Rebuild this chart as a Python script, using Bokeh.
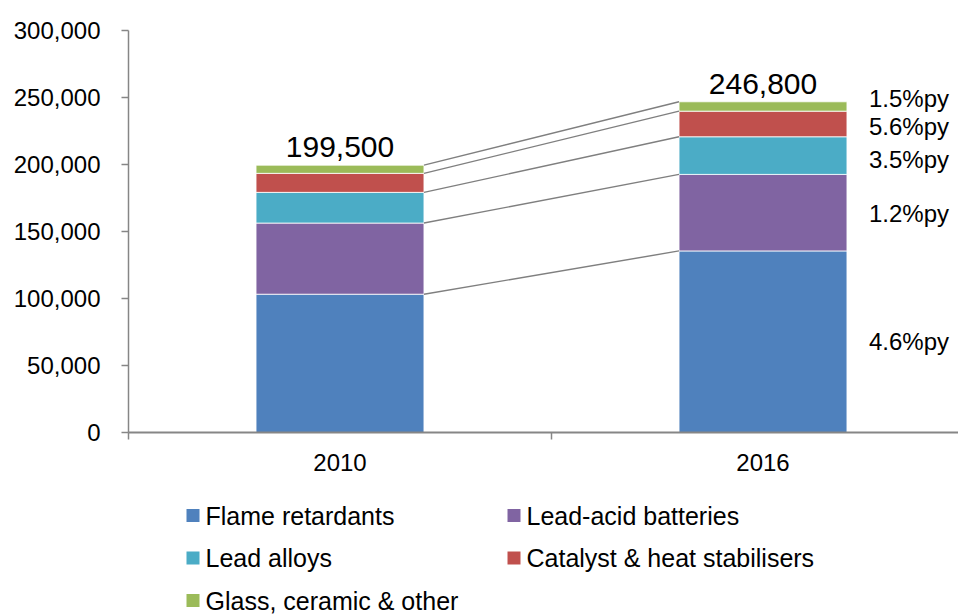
from bokeh.plotting import figure
from bokeh.models import ColumnDataSource, Range1d, FixedTicker, NumeralTickFormatter, LabelSet
from bokeh.layouts import column
from bokeh.embed import file_html
from bokeh.resources import INLINE
from bokeh.core.properties import value

# ---------------- data ----------------
years = ["2010", "2016"]
series = ["Flame retardants", "Lead-acid batteries", "Lead alloys",
          "Catalyst & heat stabilisers", "Glass, ceramic & other"]
flame = [103200, 135500]
lead_acid = [53100, 57100]
alloys = [22900, 28100]
catalyst = [14200, 19100]
glass = [6100, 7000]
totals = [199500, 246800]
growth = ["4.6%py", "1.2%py", "3.5%py", "5.6%py", "1.5%py"]
y_ticks = [0, 50000, 100000, 150000, 200000, 250000, 300000]

colors = ["#4F81BD", "#8064A2", "#4BACC6", "#C0504D", "#9BBB59"]
FONT = "Liberation Sans"
GRAY = "#868686"
BAR_W = 0.397
W = 958
LEFT = 128

layers = [flame, lead_acid, alloys, catalyst, glass]
keys = ["flame", "lead_acid", "alloys", "catalyst", "glass"]
xpos = list(range(len(years)))

src = ColumnDataSource(dict(x=xpos, **{k: v for k, v in zip(keys, layers)}))

p = figure(width=W, height=488, x_range=Range1d(-0.5, -0.5 + (W - LEFT) / 423.0),
           y_range=Range1d(0, 300000), output_backend="svg", toolbar_location=None,
           min_border_left=LEFT, min_border_right=0, min_border_top=30, min_border_bottom=56)
p.xgrid.visible = False
p.ygrid.visible = False
p.outline_line_color = None
p.background_fill_color = "white"

p.vbar_stack(keys, x="x", width=BAR_W, fill_color=colors, line_color="white",
             line_width=0.8, source=src)

# connector lines between cumulative tops
cum = []
run = [0] * len(years)
for layer in layers:
    run = [r + v for r, v in zip(run, layer)]
    cum.append(run)
p.segment(x0=[xpos[0] + BAR_W / 2] * len(cum), y0=[c[0] for c in cum],
          x1=[xpos[1] - BAR_W / 2] * len(cum), y1=[c[1] for c in cum],
          line_color="#7F7F7F", line_width=1.4)

# totals
tot_src = ColumnDataSource(dict(x=xpos, y=totals, t=[f"{v:,}" for v in totals]))
p.add_layout(LabelSet(x="x", y="y", text="t", source=tot_src, text_align="center",
                      text_baseline="alphabetic", y_offset=8,
                      text_font=value(FONT), text_font_size="30px", text_color="black"))

# growth labels at 2016 segment midpoints
lo = [0] + [c[1] for c in cum[:-1]]
mids = [(a + c[1]) / 2 for a, c in zip(lo, cum)]
g_src = ColumnDataSource(dict(x=[xpos[1] + BAR_W / 2] * len(mids), y=mids, t=growth,
                              yo=[0, -1, -4, -3, 8]))
p.add_layout(LabelSet(x="x", y="y", text="t", source=g_src, x_offset=22, y_offset="yo",
                      text_align="left", text_baseline="middle",
                      text_font=value(FONT), text_font_size="24px", text_color="black"))

# axes
xa = p.xaxis[0]
xa.ticker = FixedTicker(ticks=xpos, minor_ticks=[-0.5, 0.5, 1.5])
xa.major_label_overrides = {i: y for i, y in zip(xpos, years)}
xa.major_tick_out = 0
xa.major_tick_in = 0
xa.minor_tick_out = 7
xa.minor_tick_in = 0
xa.minor_tick_line_color = GRAY
xa.minor_tick_line_width = 1.5
xa.axis_line_color = GRAY
xa.axis_line_width = 2
xa.major_label_standoff = 14
xa.major_label_text_font = FONT
xa.major_label_text_font_size = "24px"
xa.major_label_text_color = "black"

ya = p.yaxis[0]
ya.ticker = FixedTicker(ticks=y_ticks)
ya.formatter = NumeralTickFormatter(format="0,0")
ya.major_tick_out = 7
ya.major_tick_in = 0
ya.minor_tick_line_color = None
ya.major_tick_line_color = GRAY
ya.major_tick_line_width = 1.5
ya.axis_line_color = GRAY
ya.axis_line_width = 1.5
ya.major_label_standoff = 21
ya.major_label_text_font = FONT
ya.major_label_text_font_size = "24px"
ya.major_label_text_color = "black"

# ---------------- legend (separate strip, page pixel coordinates) ----------------
LEG_H = 126
leg = figure(width=W, height=LEG_H, x_range=Range1d(LEFT, W), y_range=Range1d(LEG_H, 0),
             output_backend="svg", toolbar_location=None, x_axis_type=None, y_axis_type=None,
             min_border_left=LEFT, min_border_right=0, min_border_top=0, min_border_bottom=0)
leg.xgrid.visible = False
leg.ygrid.visible = False
leg.outline_line_color = None

COL_X = [186, 507]
ROW_Y0, ROW_H = 27, 42.5
SQ = 13
sq_x, sq_y, tx_x = [], [], []
for i, name in enumerate(series):
    r, c = divmod(i, 2)
    sq_x.append(COL_X[c] + SQ / 2)
    sq_y.append(ROW_Y0 + r * ROW_H)
    tx_x.append(COL_X[c] + 19)
leg.rect(x=sq_x, y=sq_y, width=SQ, height=SQ, fill_color=colors, line_color=None)
leg.text(x=tx_x, y=sq_y, text=series, text_font=value(FONT), text_font_size="25px",
         text_baseline="middle", text_align="left", text_color="black")

layout = column(p, leg)
open("out.html", "w").write(file_html(layout, INLINE))
